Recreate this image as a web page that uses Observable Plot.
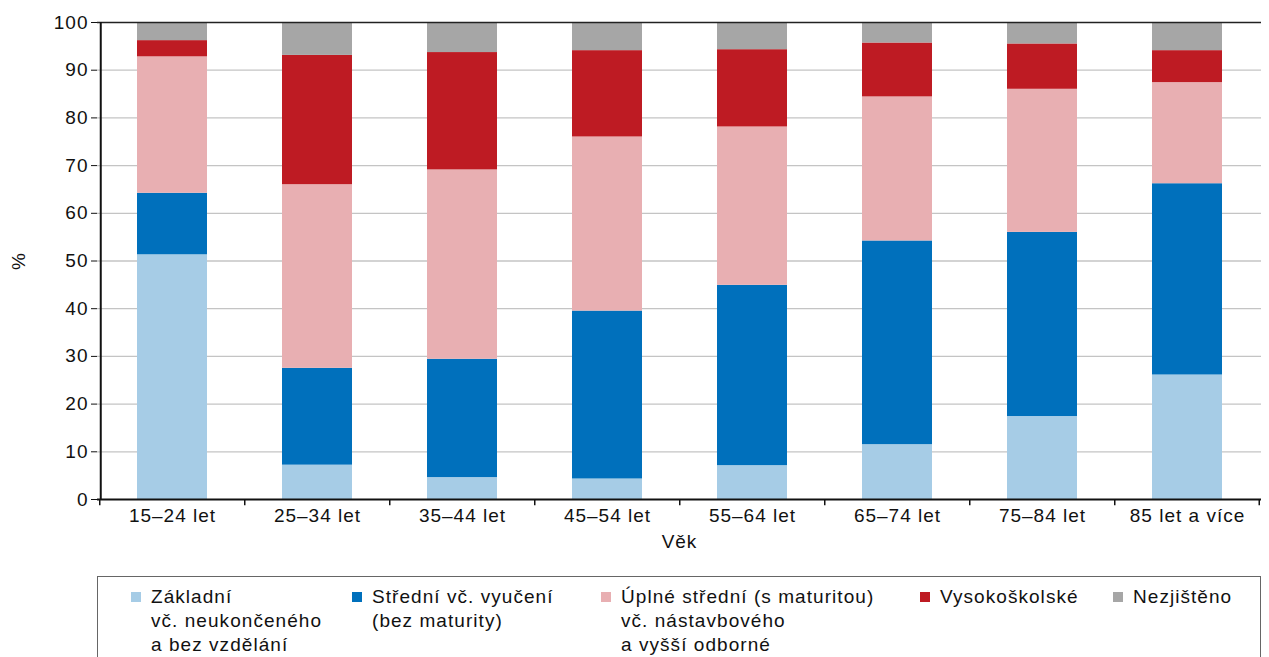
<!DOCTYPE html>
<html>
<head>
<meta charset="utf-8">
<script src="https://cdn.jsdelivr.net/npm/d3@7"></script>
<script src="https://cdn.jsdelivr.net/npm/@observablehq/plot@0.6"></script>
<style>
  html, body { margin: 0; padding: 0; background: #fff; }
  body { font-family: "Liberation Sans", Arial, sans-serif; }
  #wrap { position: relative; width: 1269px; height: 657px; overflow: hidden; }
  #chart svg text { letter-spacing: 1px; }
  #legend { position: absolute; left: 97px; top: 576px; width: 1164px; height: 120px;
            border: 1px solid #666; box-sizing: border-box; background: #fff; }
  .item { position: absolute; top: 8px; font-size: 19px; line-height: 24px; color: #111; letter-spacing: 1.05px; white-space: nowrap; }
  .sw { position: absolute; left: -20px; top: 7px; width: 10px; height: 10px; }
</style>
</head>
<body>
<div id="wrap"><div id="chart"></div><div id="legend"></div></div>
<script>
const categories = ["15–24 let","25–34 let","35–44 let","45–54 let","55–64 let","65–74 let","75–84 let","85 let a více"];
const seriesNames = ["Základní vč. neukončeného a bez vzdělání","Střední vč. vyučení (bez maturity)","Úplné střední (s maturitou) vč. nástavbového a vyšší odborné","Vysokoškolské","Nezjištěno"];
const legendLines = [
  ["Základní","vč. neukončeného","a bez vzdělání"],
  ["Střední vč. vyučení","(bez maturity)"],
  ["Úplné střední (s maturitou)","vč. nástavbového","a vyšší odborné"],
  ["Vysokoškolské"],
  ["Nezjištěno"]
];
const colors = ["#a6cce6","#0070bc","#e8afb2","#be1b23","#a6a6a6"];
const zakladni   = [51.3, 7.2, 4.6, 4.3, 7.1, 11.5, 17.4, 26.1];
const stredni    = [12.9, 20.3, 24.8, 35.2, 37.8, 42.7, 38.6, 40.1];
const uplne      = [28.6, 38.5, 39.7, 36.5, 33.2, 30.2, 30.0, 21.2];
const vysoko     = [3.4, 27.1, 24.6, 18.1, 16.2, 11.3, 9.5, 6.7];
const nezjisteno = [3.8, 6.9, 6.3, 5.9, 5.7, 4.3, 4.5, 5.9];
const yTicks = [0,10,20,30,40,50,60,70,80,90,100];

const seriesValues = [zakladni, stredni, uplne, vysoko, nezjisteno];
const data = [];
seriesValues.forEach((vals, s) => vals.forEach((v, i) => data.push({cat: categories[i], series: seriesNames[s], value: v})));

const W = 1269, ML = 97, MR = 8;
const step = (W - ML - MR) / categories.length;

const chart = Plot.plot({
  width: W, height: 560,
  marginLeft: ML, marginRight: MR, marginTop: 22, marginBottom: 61,
  style: {fontFamily: "'Liberation Sans', Arial, sans-serif", fontSize: "19px", color: "#111", background: "#fff"},
  x: {domain: categories, paddingInner: 0.52, paddingOuter: 0.26},
  y: {domain: [0, 100]},
  color: {domain: seriesNames, range: colors},
  marks: [
    Plot.ruleY(yTicks.filter(d => d > 0 && d < 100), {stroke: "#c4c4c4", strokeWidth: 1.3}),
    Plot.barY(data, {x: "cat", y: "value", fill: "series", order: seriesNames}),
    Plot.ruleY([100], {stroke: "#222", strokeWidth: 1.5}),
    Plot.ruleY([0], {stroke: "#111", strokeWidth: 2}),
    Plot.ruleX(categories, {x: d => d, dx: -step / 2, y1: 0, y2: -1.3, stroke: "#111", strokeWidth: 1.5}),
    Plot.ruleX([categories[categories.length - 1]], {x: d => d, dx: step / 2 - 1, y1: 0, y2: -1.3, stroke: "#111", strokeWidth: 1.5}),
    Plot.axisY({ticks: yTicks, tickSize: 6, tickPadding: 3, stroke: "#111", label: "%", labelAnchor: "center", labelArrow: "none", labelOffset: 86, fontSize: 19}),
    Plot.ruleX([categories[0]], {x: d => d, dx: -step / 2 + 1, y1: 0, y2: 100, stroke: "#111", strokeWidth: 2}),
    Plot.axisX({tickSize: 0, tickPadding: 9, label: "Věk", labelAnchor: "center", labelArrow: "none", labelOffset: 48, fontSize: 19})
  ]
});
document.getElementById("chart").appendChild(chart);

const lefts = [151, 372, 621, 940, 1133];
const legend = document.getElementById("legend");
legendLines.forEach((lines, i) => {
  const it = document.createElement("div");
  it.className = "item";
  it.style.left = (lefts[i] - 98) + "px";
  it.innerHTML = lines.join("<br>");
  const sw = document.createElement("div");
  sw.className = "sw";
  sw.style.background = colors[i];
  it.appendChild(sw);
  legend.appendChild(it);
});
</script>
</body>
</html>
